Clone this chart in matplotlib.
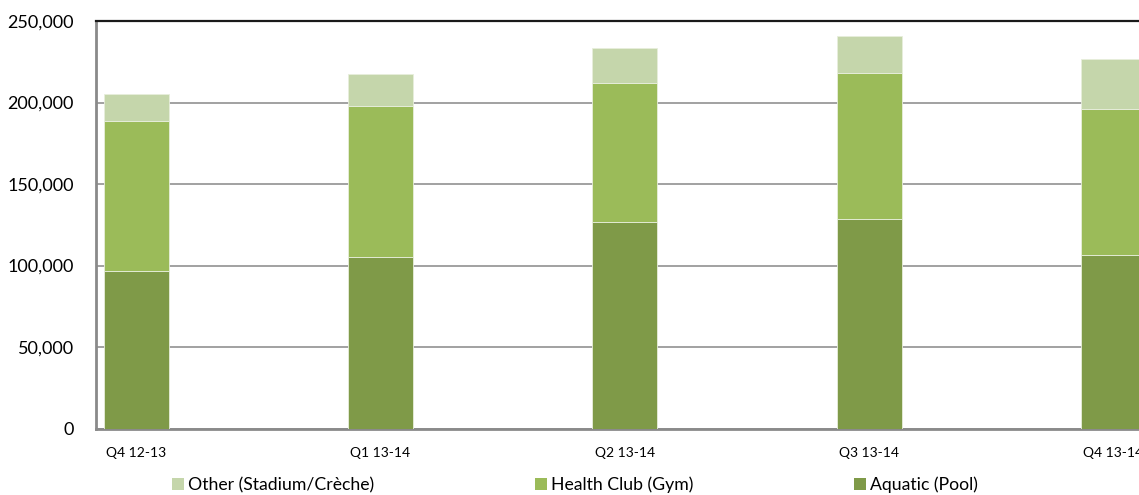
import matplotlib
matplotlib.use("Agg")
import matplotlib.pyplot as plt
from matplotlib.patches import Patch
from matplotlib.ticker import FuncFormatter
import numpy as np

quarters = ["Q4 12-13", "Q1 13-14", "Q2 13-14", "Q3 13-14", "Q4 13-14"]
aquatic = [97000, 105500, 126800, 128500, 106400]
health_club = [91600, 92300, 85300, 89900, 89900]
other = [16900, 19600, 21500, 22500, 30700]

c_aquatic = "#7F9A48"
c_gym = "#9BBB59"
c_other = "#C5D6AB"

plt.rcParams["font.family"] = ["Lato", "DejaVu Sans"]

fig = plt.figure(figsize=(11.39, 4.95), dpi=100)
ax = fig.add_axes([96 / 1139, 1 - 428.7 / 495, 1 - 96 / 1139, (428.7 - 21) / 495])

x = np.arange(len(quarters))
w = 0.266
aq = np.array(aquatic)
gy = np.array(health_club)
ot = np.array(other)

edge = dict(edgecolor="#E8EEDC", linewidth=0.6, zorder=3)
ax.bar(x, aq, w, color=c_aquatic, **edge)
ax.bar(x, gy, w, bottom=aq, color=c_gym, **edge)
ax.bar(x, ot, w, bottom=aq + gy, color=c_other, **edge)

ax.set_xlim(-0.164, 4.105)
ax.set_ylim(0, 250000)
ax.set_yticks(range(0, 250001, 50000))
ax.yaxis.set_major_formatter(FuncFormatter(lambda v, p: f"{int(v):,}"))
ax.set_xticks(x)
ax.set_xticklabels(quarters, fontsize=10)
ax.tick_params(axis="y", length=0, pad=16, labelsize=13)
ax.tick_params(axis="x", length=0, pad=13)

ax.grid(axis="y", color="#9A9A9A", linewidth=1.3, zorder=0)
ax.set_axisbelow(True)

for s in ("left", "bottom"):
    ax.spines[s].set_color("#8A8A8A")
    ax.spines[s].set_linewidth(2)
ax.spines["top"].set_color("#1A1A1A")
ax.spines["top"].set_linewidth(1.6)
ax.spines["right"].set_visible(False)

handles = [Patch(facecolor=c_other, edgecolor="none"),
           Patch(facecolor=c_gym, edgecolor="none"),
           Patch(facecolor=c_aquatic, edgecolor="none")]
labels = ["Other (Stadium/Crèche)", "Health Club (Gym)", "Aquatic (Pool)"]
fig.legend(handles, labels, loc="center", bbox_to_anchor=(0.505, 1 - 485 / 495), ncol=3,
           frameon=False, fontsize=12.7, handlelength=0.66, handleheight=0.66,
           handletextpad=0.25, columnspacing=9.1, borderpad=0, borderaxespad=0)

fig.savefig("out.png", dpi=100)
